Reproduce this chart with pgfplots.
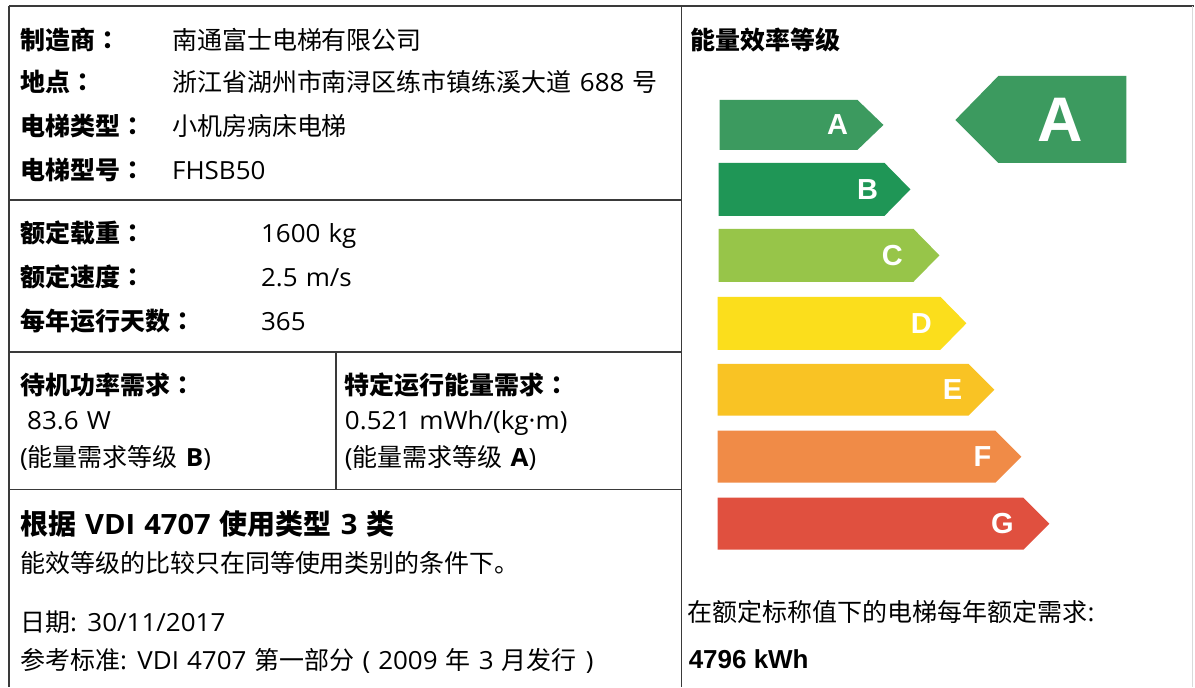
\documentclass[border=0pt]{standalone}
\usepackage{pgfplots}
\pgfplotsset{compat=1.18}
\usepackage{fontspec}
\setmainfont{Noto Sans CJK SC}
\newfontfamily\tc{Noto Sans CJK TC}
\newfontfamily\os{Open Sans}[FakeStretch=1.04, WordSpace=1.2]
\newfontfamily\lat{Liberation Sans}
\newcommand{\la}[1]{{\os #1}}
\newcommand{\cc}{{\tc ：}}

\definecolor{cA}{HTML}{3C9A5F}
\definecolor{cB}{HTML}{1F9656}
\definecolor{cC}{HTML}{97C549}
\definecolor{cD}{HTML}{FBDE1C}
\definecolor{cE}{HTML}{F9C324}
\definecolor{cF}{HTML}{F08B47}
\definecolor{cG}{HTML}{E0503F}
\definecolor{rule}{HTML}{3A3A3A}

\newcommand{\fs}{\fontsize{25bp}{30bp}\selectfont}
\tikzset{
    txt/.style={anchor=base west, inner sep=0pt, font=\fs},
    lbl/.style={anchor=base west, inner sep=0pt, font=\fs\bfseries},
    clet/.style={inner sep=0pt, text=white, font=\lat\bfseries\fontsize{29bp}{29bp}\selectfont},
}

\begin{document}
\begin{tikzpicture}
\begin{axis}[
    width=1195bp, height=687bp, scale only axis,
    xmin=0, xmax=1195, ymin=0, ymax=687,
    y dir=reverse, hide axis, clip=false, no markers,
]
% page background sets the bounding box
\fill[white] (axis cs:0,0) rectangle (axis cs:1195,687);

% energy class arrows: (left,top) (rect end,top) (tip) (rect end,bottom) (left,bottom)
\addplot[fill=cA, draw=none] coordinates {(720,100)(858,100)(884,125)(858,150)(720,150)} --cycle;
\addplot[fill=cB, draw=none] coordinates {(719,163)(885,163)(911,189.5)(885,216)(719,216)} --cycle;
\addplot[fill=cC, draw=none] coordinates {(719,229)(914,229)(940,255.5)(914,282)(719,282)} --cycle;
\addplot[fill=cD, draw=none] coordinates {(718,297)(941,297)(967,323.5)(941,350)(718,350)} --cycle;
\addplot[fill=cE, draw=none] coordinates {(718,364)(969,364)(995,390)(969,416)(718,416)} --cycle;
\addplot[fill=cF, draw=none] coordinates {(718,431)(996,431)(1022,457)(996,483)(718,483)} --cycle;
\addplot[fill=cG, draw=none] coordinates {(718,498)(1024,498)(1050,524)(1024,550)(718,550)} --cycle;
% rated class pointer
\addplot[fill=cA, draw=none] coordinates {(956,120)(999,76)(1127,76)(1127,163)(999,163)} --cycle;

\node[clet] at (axis cs:838,125) {A};
\node[clet] at (axis cs:868,189.5) {B};
\node[clet] at (axis cs:893,255.5) {C};
\node[clet] at (axis cs:922,323.5) {D};
\node[clet] at (axis cs:953,390) {E};
\node[clet] at (axis cs:983,457) {F};
\node[clet] at (axis cs:1003,524) {G};
\node[inner sep=0pt, text=white, font=\lat\bfseries\fontsize{63bp}{63bp}\selectfont] at (axis cs:1061,120) {A};

% frame
\draw[rule, line width=1.5bp] (axis cs:9,6) -- (axis cs:1195,6);
\draw[rule, line width=1.5bp] (axis cs:9,6) -- (axis cs:9,687);
\draw[rule, line width=1.5bp] (axis cs:682,6) -- (axis cs:682,687);
\draw[rule, line width=1.5bp] (axis cs:9,200) -- (axis cs:682,200);
\draw[rule, line width=1.5bp] (axis cs:9,352) -- (axis cs:682,352);
\draw[rule, line width=1.5bp] (axis cs:9,490) -- (axis cs:682,490);
\draw[rule, line width=1.5bp] (axis cs:336,352) -- (axis cs:336,490);
\draw[black!15, line width=1bp] (axis cs:1193,6) -- (axis cs:1193,687);

% left panel text
\node[lbl] at (axis cs:20,50) {制造商\cc};
\node[txt] at (axis cs:172,50) {南通富士电梯有限公司};
\node[lbl] at (axis cs:20,92) {地点\cc};
\node[txt] at (axis cs:172,92) {浙江省湖州市南浔区练市镇练溪大道\la{ 688 }号};
\node[lbl] at (axis cs:20,136) {电梯类型\cc};
\node[txt] at (axis cs:172,136) {小机房病床电梯};
\node[lbl] at (axis cs:20,180) {电梯型号\cc};
\node[txt] at (axis cs:172,180) {\la{FHSB50}};

\node[lbl] at (axis cs:20,243) {额定载重\cc};
\node[txt] at (axis cs:261,243) {\la{1600 kg}};
\node[lbl] at (axis cs:20,287) {额定速度\cc};
\node[txt] at (axis cs:261,287) {\la{2.5 m/s}};
\node[lbl] at (axis cs:20,331) {每年运行天数\cc};
\node[txt] at (axis cs:261,331) {\la{365}};

\node[lbl] at (axis cs:20,395) {待机功率需求\cc};
\node[txt] at (axis cs:27,430) {\la{83.6 W}};
\node[txt] at (axis cs:20,467) {\la{(}能量需求等级\la{ \textbf{B})}};
\node[lbl] at (axis cs:345,395) {特定运行能量需求\cc};
\node[txt] at (axis cs:345,430) {\la{0.521 mWh/(kg·m)}};
\node[txt] at (axis cs:345,467) {\la{(}能量需求等级\la{ \textbf{A})}};

\node[anchor=base west, inner sep=0pt, font=\fontsize{28bp}{32bp}\selectfont\bfseries] at (axis cs:20,535) {根据\la{ VDI 4707 }使用类型\la{ 3 }类};
\node[txt] at (axis cs:20,573) {能效等级的比较只在同等使用类别的条件下。};
\node[txt] at (axis cs:20,632) {日期\la{: 30/11/2017}};
\node[txt] at (axis cs:20,670) {参考标准\la{: VDI 4707 }第一部分\la{\hspace{8bp}(\hspace{8bp}2009 }年\la{ 3 }月发行\la{\hspace{9bp})}};

% right panel text
\node[lbl] at (axis cs:691,50) {能量效率等级};
\node[txt] at (axis cs:688,622) {在额定标称值下的电梯每年额定需求\la{:}};
\node[anchor=base west, inner sep=0pt, font=\lat\bfseries\fontsize{26bp}{30bp}\selectfont] at (axis cs:689,669) {4796 kWh};
\end{axis}
\end{tikzpicture}
\end{document}
